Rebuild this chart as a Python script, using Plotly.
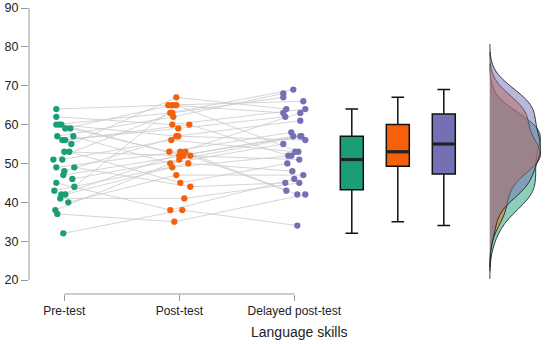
import numpy as np
import plotly.graph_objects as go

# ---- data (one entry per participant) ----
categories = ["Pre-test", "Post-test", "Delayed post-test"]
pre_test = [64, 62, 60, 60, 60, 59, 59, 57, 57, 56, 56, 55, 53, 53, 51, 51,
            49, 49, 48, 47, 46, 45, 44, 43, 42, 42, 41, 40, 38, 37, 32]
post_test = [65, 60, 63, 57, 52, 65, 53, 62, 50, 59, 60, 67, 52, 45, 63, 56,
             53, 44, 57, 52, 51, 38, 65, 50, 53, 49, 41, 47, 52, 35, 38]
delayed_test = [66, 64, 69, 61, 57, 63, 58, 68, 55, 62, 52, 64, 57, 50, 67, 53,
                63, 45, 56, 51, 57, 46, 53, 48, 42, 52, 45, 47, 43, 42, 34]
y_ticks = [20, 30, 40, 50, 60, 70, 80, 90]

# horizontal jitter of the dots (in pixels, converted below)
jit_pre = [-8, -8, -8, -5, -3, 1, 6, -7, 9, -2, 1, 7, 0, 5, -11, -2,
           -8, 10, 0, -1, 8, -8, 10, -10, -3, 1, -4, 4, -9, -7, -1]
jit_post = [-11, -7, -9, -3, 2, -7, -10, -6, -9, -1, 10, -3, 0, 1, -7, -8,
            1, 11, -1, 4, 0, -9, -3, 9, 6, -7, 5, -3, 11, -5, 3]
jit_del = [9, 11, -1, 6, -1, -11, -3, -11, -11, -9, -6, -8, 6, -7, -11, 1,
           6, -9, 11, 5, 7, 0, 4, -2, 3, -3, 5, 9, -8, 11, 3]

colors = ["#1b9e77", "#f5600a", "#7570b3"]
fills = ["rgba(27,158,119,0.5)", "rgba(245,96,10,0.5)", "rgba(117,112,179,0.5)"]
series = [pre_test, post_test, delayed_test]
jitters = [jit_pre, jit_post, jit_del]

PX = 1 / 115.0          # one pixel in x data units
box_pos = [3.5, 3.9, 4.3]
box_w = 0.2
violin_pos = 4.7

fig = go.Figure()

# connecting lines per participant
lx, ly = [], []
for i in range(len(pre_test)):
    for k in range(3):
        lx.append(k + 1 + jitters[k][i] * PX)
        ly.append(series[k][i])
    lx.append(None)
    ly.append(None)
fig.add_trace(go.Scatter(x=lx, y=ly, mode="lines",
                         line=dict(color="rgb(202,202,202)", width=0.8),
                         hoverinfo="skip", showlegend=False))

# dots
for k in range(3):
    fig.add_trace(go.Scatter(
        x=[k + 1 + j * PX for j in jitters[k]], y=series[k], mode="markers",
        marker=dict(color=colors[k], size=6.3, line=dict(width=0)),
        name=categories[k], showlegend=False))

# boxes
for k in range(3):
    fig.add_trace(go.Box(
        y=series[k], x0=box_pos[k], width=box_w, boxpoints=False,
        fillcolor=colors[k], line=dict(color="#111111", width=1.5),
        whiskerwidth=0.55, name=categories[k], showlegend=False))
    med = float(np.median(series[k]))
    fig.add_trace(go.Scatter(
        x=[box_pos[k] - box_w / 2, box_pos[k] + box_w / 2], y=[med, med],
        mode="lines", line=dict(color="#222222", width=3.2),
        hoverinfo="skip", showlegend=False))

# half densities
bw = 3.9
for k in range(3):
    fig.add_trace(go.Violin(
        y=series[k], x0=violin_pos, side="positive", width=0.88,
        bandwidth=bw, spanmode="manual",
        span=[min(series[k]) - 3 * bw, max(series[k]) + 3 * bw],
        fillcolor=fills[k], line=dict(color="rgba(30,30,30,0.85)", width=1),
        points=False, meanline=dict(visible=False), box=dict(visible=False),
        scalemode="width", name=categories[k], showlegend=False,
        hoverinfo="skip"))

# R-style detached axes
axis_col = "#9a9a9a"
fig.add_shape(type="line", xref="x", yref="paper", x0=1, x1=3, y0=0, y1=0,
              line=dict(color=axis_col, width=1))
fig.add_shape(type="line", xref="paper", yref="y", x0=0, x1=0, y0=20, y1=90,
              line=dict(color=axis_col, width=1))

fig.add_annotation(text="Language skills", xref="paper", yref="paper",
                   x=0.525, y=-0.132, xanchor="center", yanchor="middle",
                   showarrow=False, font=dict(size=14, color="#222222"))

font_fam = "Liberation Sans, Arial, sans-serif"
fig.update_layout(
    width=550, height=344,
    margin=dict(l=29, r=5, t=8, b=50),
    paper_bgcolor="white", plot_bgcolor="white",
    font=dict(family=font_fam, size=12, color="#222222"),
    boxmode="overlay", violinmode="overlay",
    xaxis=dict(range=[1 - 35.3 * PX, 1 + 480.7 * PX], tickvals=[1, 2, 3],
               ticktext=categories, ticks="outside", ticklen=6,
               tickcolor=axis_col, showline=False, showgrid=False,
               zeroline=False, automargin=False,
               tickfont=dict(size=12, color="#222222")),
    yaxis=dict(range=[20 - 14 / 3.886, 90], tickvals=y_ticks,
               ticks="outside", ticklen=7, tickcolor=axis_col,
               showline=False, showgrid=False, zeroline=False,
               automargin=False,
               tickfont=dict(size=12.5, color="#222222")),
)

fig.write_html("out.html",
               config={"displayModeBar": False},
               post_script="document.body.style.margin='0';"
                           "document.body.style.overflow='hidden';")
